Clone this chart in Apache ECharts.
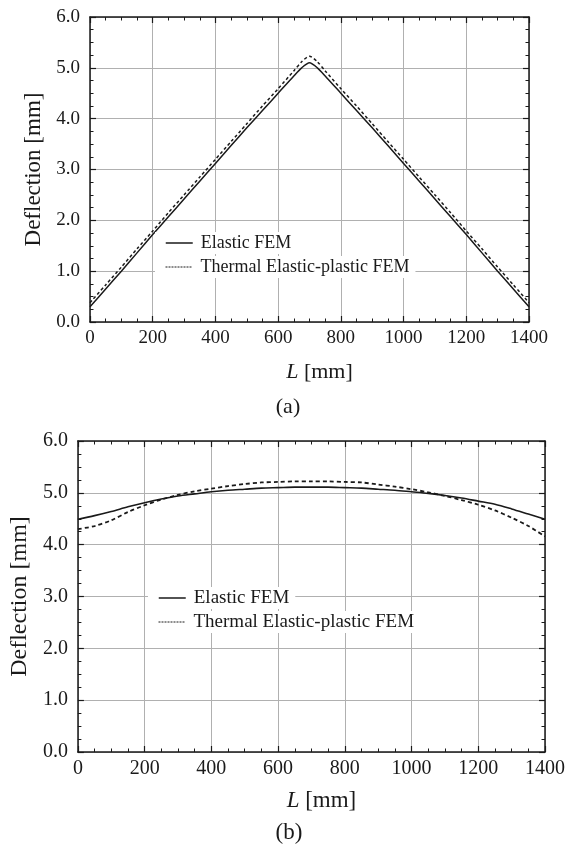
<!DOCTYPE html>
<html><head><meta charset="utf-8">
<script src="https://cdn.jsdelivr.net/npm/echarts@6/dist/echarts.min.js"></script>
<style>html,body{margin:0;padding:0;background:#fff}#c{width:574px;height:853px}</style>
</head><body><div id="c"></div>
<script>
// ---- data ----
const seriesNames = ['Elastic FEM', 'Thermal Elastic-plastic FEM'];
const xTicks = [0, 200, 400, 600, 800, 1000, 1200, 1400];
const yTicks = [0, 1, 2, 3, 4, 5, 6];

// (a)
const L_a = [0,50,100,150,200,250,300,350,400,450,500,550,600,650,675,700,725,750,800,850,900,950,1000,1050,1100,1150,1200,1250,1300,1350,1400];
const elastic_a = [0.30,0.65,1.00,1.36,1.72,2.07,2.42,2.77,3.12,3.47,3.82,4.16,4.50,4.84,5.00,5.10,5.00,4.84,4.50,4.16,3.82,3.47,3.12,2.77,2.42,2.07,1.72,1.36,1.00,0.65,0.30];
const thermal_a = [0.38,0.73,1.08,1.44,1.79,2.15,2.50,2.85,3.20,3.55,3.90,4.25,4.59,4.94,5.12,5.23,5.12,4.94,4.59,4.25,3.90,3.55,3.20,2.85,2.50,2.15,1.79,1.44,1.08,0.73,0.38];

// (b)
const L_b = [0,50,100,150,200,250,300,350,400,450,500,550,600,650,700,750,800,850,900,950,1000,1050,1100,1150,1200,1250,1300,1350,1400];
const elastic_b = [4.49,4.56,4.64,4.73,4.81,4.88,4.94,4.98,5.02,5.05,5.07,5.09,5.10,5.11,5.11,5.11,5.10,5.09,5.07,5.05,5.02,4.99,4.95,4.90,4.84,4.78,4.69,4.59,4.49];
const thermal_b = [4.30,4.36,4.47,4.63,4.76,4.87,4.96,5.03,5.08,5.13,5.17,5.20,5.21,5.22,5.22,5.22,5.21,5.20,5.16,5.12,5.07,5.01,4.94,4.86,4.77,4.66,4.52,4.36,4.16];

// ---- chart ----
const SERIF = "'Liberation Serif','Times New Roman',serif";
const INK = '#1a1a1a';
const zip = (xs, ys) => xs.map((x, i) => [x, ys[i]]);

function xAxes(gi, fs, nfs, nameGap) {
  const common = {
    type: 'value', gridIndex: gi, min: xTicks[0], max: xTicks[xTicks.length - 1],
    interval: xTicks[1] - xTicks[0],
    axisLine: { show: true, onZero: false, lineStyle: { color: INK, width: 1.5 } },
    axisTick: { show: true, inside: true, length: 6, lineStyle: { color: INK, width: 1.2 } },
    minorTick: { show: true, splitNumber: 4, length: 3.5, lineStyle: { color: INK, width: 1 } }
  };
  return [
    Object.assign({}, common, {
      position: 'bottom',
      splitLine: { show: true, lineStyle: { color: '#b0b0b0', width: 1 } },
      axisLabel: { margin: 7, fontSize: fs, fontFamily: SERIF, color: INK, formatter: v => String(v) },
      name: '{it|L} [mm]', nameLocation: 'middle', nameGap: nameGap,
      nameTextStyle: { fontSize: nfs, fontFamily: SERIF, color: INK, padding: [0, 0, 0, 20],
        rich: { it: { fontStyle: 'italic', fontSize: nfs, fontFamily: SERIF, color: INK } } }
    }),
    Object.assign({}, common, {
      position: 'top', splitLine: { show: false }, axisLabel: { show: false }
    })
  ];
}
function yAxes(gi, fs, nfs, nameGap) {
  const common = {
    type: 'value', gridIndex: gi, min: yTicks[0], max: yTicks[yTicks.length - 1],
    interval: yTicks[1] - yTicks[0],
    axisLine: { show: true, onZero: false, lineStyle: { color: INK, width: 1.5 } },
    axisTick: { show: true, inside: true, length: 6, lineStyle: { color: INK, width: 1.2 } },
    minorTick: { show: true, splitNumber: 4, length: 3.5, lineStyle: { color: INK, width: 1 } }
  };
  return [
    Object.assign({}, common, {
      position: 'left',
      splitLine: { show: true, lineStyle: { color: '#b0b0b0', width: 1 } },
      axisLabel: { margin: 10, fontSize: fs, fontFamily: SERIF, color: INK, formatter: v => v.toFixed(1) },
      name: 'Deflection [mm]', nameLocation: 'middle', nameGap: nameGap,
      nameTextStyle: { fontSize: nfs, fontFamily: SERIF, color: INK }
    }),
    Object.assign({}, common, {
      position: 'right', splitLine: { show: false }, axisLabel: { show: false }
    })
  ];
}
function legendItem(name, left, top, fs, dashed) {
  const d = { name: name };
  if (dashed) d.lineStyle = { type: [2, 1], width: 1, color: INK };
  else d.lineStyle = { type: 'solid', width: 1.5, color: INK };
  return {
    data: [d], left: left, top: top, orient: 'vertical', selectedMode: false,
    backgroundColor: '#ffffff', padding: [0, 6, 0, 10],
    itemWidth: 27, itemHeight: 14,
    itemStyle: { opacity: 0 },
    textStyle: { fontSize: fs, fontFamily: SERIF, color: INK, lineHeight: 22, padding: [0, 0, 0, 3] }
  };
}

const chart = echarts.init(document.getElementById('c'), null, { renderer: 'canvas' });
chart.setOption({
  backgroundColor: '#ffffff',
  animation: false,
  grid: [
    { left: 90, top: 17, width: 439, height: 305 },
    { left: 77, top: 441, width: 468, height: 311 }
  ],
  xAxis: [].concat(xAxes(0, 19, 22, 39), xAxes(1, 20, 23, 37)),
  yAxis: [].concat(yAxes(0, 19, 23, 36), yAxes(1, 20, 24, 39)),
  legend: [
    legendItem(seriesNames[0], 155, 232, 18, false),
    legendItem(seriesNames[1], 155, 256, 18, true),
    legendItem(seriesNames[0], 148, 587, 19, false),
    legendItem(seriesNames[1], 148, 611, 19, true)
  ],
  series: [
    { name: seriesNames[0], type: 'line', xAxisIndex: 0, yAxisIndex: 0, data: zip(L_a, elastic_a),
      symbol: 'none', smooth: 0.25, lineStyle: { color: INK, width: 1.5 }, z: 3 },
    { name: seriesNames[1], type: 'line', xAxisIndex: 0, yAxisIndex: 0, data: zip(L_a, thermal_a),
      symbol: 'none', smooth: 0.25, lineStyle: { color: INK, width: 1.5, type: [3, 2.5] }, z: 3 },
    { name: seriesNames[0], type: 'line', xAxisIndex: 2, yAxisIndex: 2, data: zip(L_b, elastic_b),
      symbol: 'none', smooth: 0.3, lineStyle: { color: INK, width: 1.6 }, z: 3 },
    { name: seriesNames[1], type: 'line', xAxisIndex: 2, yAxisIndex: 2, data: zip(L_b, thermal_b),
      symbol: 'none', smooth: 0.3, lineStyle: { color: INK, width: 1.8, type: [4, 3] }, z: 3 }
  ],
  graphic: [
    { type: 'text', x: 288, y: 407, style: { text: '(a)', font: '22px ' + SERIF, fill: INK, align: 'center', verticalAlign: 'middle' } },
    { type: 'text', x: 289, y: 833, style: { text: '(b)', font: '23px ' + SERIF, fill: INK, align: 'center', verticalAlign: 'middle' } }
  ]
});
</script>
</body></html>
